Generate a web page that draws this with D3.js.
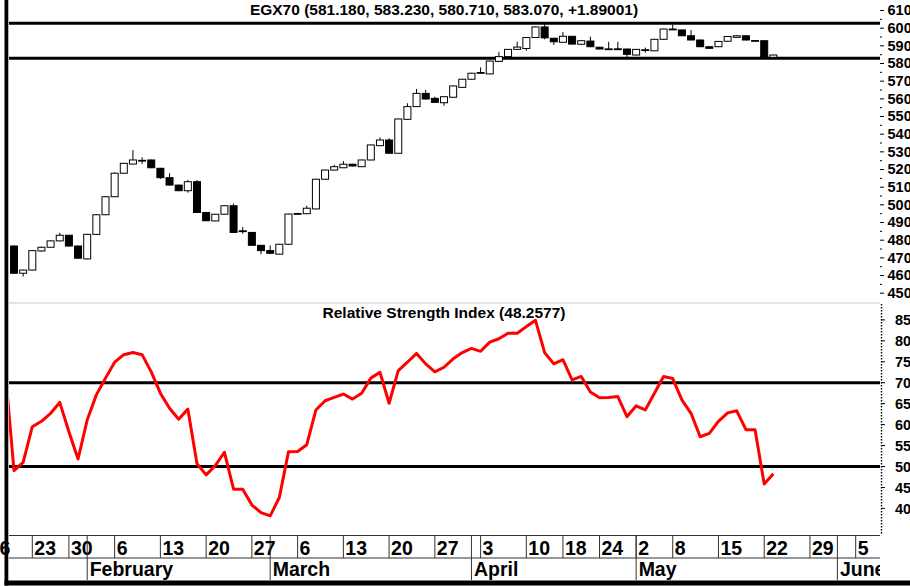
<!DOCTYPE html>
<html>
<head>
<meta charset="utf-8">
<script src="https://cdn.jsdelivr.net/npm/d3@7"></script>
<style>
  html, body { margin: 0; padding: 0; background: #fff; }
  svg { display: block; }
  text { font-family: "Liberation Sans", Arial, sans-serif; font-weight: bold; fill: #000; }
</style>
</head>
<body>
<svg width="910" height="586"></svg>
<script>
var svg = d3.select('svg')

// daily bars, first one is Jan 18 (hidden behind the left edge)
var firstIdx = -1
var opens = [470.0, 476.7, 461.3, 463.1, 473.9, 476.0, 479.6, 482.8, 476.7, 469.4, 483.3, 494.4, 504.6, 517.9, 523.1, 525.0, 525.4, 520.7, 515.4, 511.2, 508.0, 513.1, 495.7, 490.9, 494.7, 499.5, 485.3, 484.4, 477.1, 474.1, 472.1, 477.7, 494.8, 495.0, 497.7, 514.5, 519.7, 521.0, 523.0, 521.6, 525.4, 533.5, 536.7, 529.2, 548.4, 555.6, 563.1, 560.3, 557.8, 560.9, 566.5, 571.1, 574.7, 574.1, 581.2, 583.9, 588.0, 588.5, 594.7, 600.7, 594.3, 592.0, 595.4, 590.9, 592.7, 589.2, 588.2, 588.3, 588.2, 584.8, 587.6, 587.2, 593.7, 599.4, 599.0, 595.7, 593.3, 589.5, 589.5, 592.6, 594.8, 595.7, 592.9, 592.9, 583.5]
var highs = [477.5, 477.0, 463.3, 474.4, 476.3, 479.9, 484.2, 483.0, 477.0, 483.6, 494.7, 504.9, 518.4, 523.8, 531.0, 526.9, 525.6, 520.9, 517.9, 511.4, 514.1, 514.1, 495.9, 494.9, 499.7, 500.7, 487.5, 484.6, 477.3, 477.0, 477.9, 495.0, 495.5, 499.5, 514.7, 519.9, 522.6, 524.8, 523.2, 525.6, 534.1, 538.2, 537.7, 548.8, 557.5, 565.6, 565.0, 561.2, 561.4, 567.5, 571.3, 574.7, 577.8, 581.6, 586.6, 588.2, 592.3, 594.9, 600.9, 602.4, 594.5, 597.8, 595.6, 593.1, 595.2, 589.4, 592.3, 592.3, 588.4, 588.2, 589.0, 593.9, 599.7, 602.1, 599.2, 599.0, 593.5, 589.7, 592.7, 595.5, 596.0, 595.9, 593.3, 593.1, 585.0]
var lows = [469.5, 461.0, 459.4, 462.9, 473.6, 475.8, 479.4, 476.4, 469.5, 469.2, 483.1, 494.2, 504.4, 517.7, 522.9, 523.1, 520.8, 514.6, 511.0, 507.8, 506.9, 495.5, 490.8, 490.7, 494.5, 484.2, 483.7, 476.9, 472.1, 472.1, 471.9, 477.5, 494.5, 494.8, 497.5, 514.3, 519.5, 520.8, 521.8, 521.4, 525.2, 533.3, 529.0, 529.0, 548.2, 555.4, 559.7, 557.8, 556.1, 560.7, 566.3, 570.9, 574.5, 573.9, 581.0, 583.7, 587.8, 587.2, 594.5, 593.7, 590.5, 591.8, 590.8, 590.7, 589.3, 588.0, 588.0, 588.0, 583.1, 584.6, 586.1, 587.0, 593.5, 599.2, 595.5, 593.1, 589.3, 588.4, 589.3, 592.4, 594.6, 593.1, 592.6, 583.5, 583.3]
var closes = [477.0, 461.3, 463.1, 474.1, 476.0, 479.6, 482.8, 476.7, 469.8, 483.3, 494.4, 504.6, 517.9, 523.5, 525.4, 525.2, 521.0, 515.4, 511.2, 508.0, 513.1, 495.7, 491.0, 494.7, 499.5, 484.4, 485.1, 477.1, 474.1, 472.6, 477.7, 494.8, 495.1, 498.1, 514.5, 519.7, 521.6, 523.0, 522.0, 525.4, 533.9, 536.7, 529.2, 548.6, 555.6, 563.1, 559.9, 558.0, 561.2, 567.3, 571.1, 574.5, 574.9, 581.4, 583.9, 588.0, 589.3, 594.7, 600.7, 594.5, 592.3, 595.4, 591.0, 592.9, 589.5, 588.2, 588.3, 588.2, 585.2, 588.0, 587.8, 593.7, 599.5, 599.5, 595.7, 593.3, 589.5, 588.6, 592.5, 595.3, 595.7, 593.3, 593.0, 583.7, 584.8]
var rsi = [74.0, 49.0, 51.0, 59.5, 60.8, 62.7, 65.3, 58.3, 51.8, 61.1, 67.1, 71.1, 74.9, 76.7, 77.2, 76.7, 72.6, 67.5, 63.9, 61.3, 63.7, 50.7, 48.0, 50.2, 53.4, 44.6, 44.6, 40.8, 39.0, 38.2, 42.6, 53.5, 53.6, 55.2, 63.5, 65.7, 66.5, 67.3, 66.1, 67.5, 71.1, 72.5, 65.1, 72.9, 74.9, 77.0, 74.5, 72.6, 73.7, 75.7, 77.2, 78.2, 77.5, 79.7, 80.5, 81.8, 81.8, 83.4, 84.9, 77.2, 74.5, 75.5, 70.7, 71.5, 67.8, 66.4, 66.5, 66.7, 61.9, 64.5, 63.5, 67.5, 71.5, 71.0, 65.9, 62.7, 57.1, 57.9, 60.8, 62.8, 63.3, 58.8, 58.8, 45.8, 48.26]

var priceTicks = [450, 460, 470, 480, 490, 500, 510, 520, 530, 540, 550, 560, 570, 580, 590, 600, 610]
var priceLevels = [602.8, 583.0]
var rsiTicks = [40, 45, 50, 55, 60, 65, 70, 75, 80, 85]
var rsiLevels = [70, 50]

// week labels (first trading day) and how many trading days each week has
var weekLabels = ['16', '23', '30', '6', '13', '20', '27', '6', '13', '20', '27', '3', '10', '18', '24', '2', '8', '15', '22', '29', '5']
var weekLengths = [5, 4, 5, 5, 5, 5, 5, 5, 5, 5, 5, 5, 4, 4, 4, 4, 5, 5, 5, 5, 5]
var weekFirst = -3
var monthLabels = ['February', 'March', 'April', 'May', 'June']
var monthStarts = [8, 28, 50, 68, 90]

var titleText = 'EGX70 (581.180, 583.230, 580.710, 583.070, +1.89001)'
var rsiTitle = 'Relative Strength Index (48.2577)'

var plotL = 9, plotR = 880
var x = d3.scaleLinear().domain([0, 92]).range([14, 855.7])
var yP = d3.scaleLinear().domain([450, 610]).range([293.2, 10.5])
var yR = d3.scaleLinear().domain([40, 85]).range([508.4, 319.9])

var bars = opens.map((o, k) => ({
  i: k + firstIdx, o: o, h: highs[k], l: lows[k], c: closes[k], r: rsi[k]
}))

var defs = svg.append('defs')
defs.append('clipPath').attr('id', 'clip-price')
  .append('rect').attr('x', plotL).attr('y', 0).attr('width', plotR - plotL).attr('height', 302)
defs.append('clipPath').attr('id', 'clip-rsi')
  .append('rect').attr('x', plotL).attr('y', 304).attr('width', plotR - plotL).attr('height', 231)
defs.append('clipPath').attr('id', 'clip-axis')
  .append('rect').attr('x', 0).attr('y', 530).attr('width', plotR).attr('height', 56)

// ---- price panel
var pricePanel = svg.append('g').attr('clip-path', 'url(#clip-price)')

pricePanel.selectAll('.level')
  .data(priceLevels)
  .enter().append('line')
  .attr('x1', plotL).attr('x2', plotR)
  .attr('y1', d => yP(d)).attr('y2', d => yP(d))
  .attr('stroke', '#000').attr('stroke-width', 3)

var candle = pricePanel.selectAll('.candle')
  .data(bars)
  .enter().append('g')

candle.append('line')
  .attr('x1', d => x(d.i)).attr('x2', d => x(d.i))
  .attr('y1', d => yP(d.h)).attr('y2', d => yP(d.l))
  .attr('stroke', '#000').attr('stroke-width', 1)

candle.append('rect')
  .attr('x', d => x(d.i) - 3.5)
  .attr('width', 7)
  .attr('y', d => yP(Math.max(d.o, d.c)))
  .attr('height', d => Math.max(0.8, Math.abs(yP(d.o) - yP(d.c))))
  .attr('fill', d => d.c >= d.o ? '#fff' : '#000')
  .attr('stroke', '#000').attr('stroke-width', 1)

svg.append('text')
  .attr('x', 444).attr('y', 14.5)
  .attr('text-anchor', 'middle')
  .style('font-size', '15.5px')
  .text(titleText)

// price axis on the right
var pAxis = svg.append('g')
pAxis.selectAll('.maj')
  .data(priceTicks)
  .enter().append('line')
  .attr('x1', 880).attr('x2', 884)
  .attr('y1', d => yP(d)).attr('y2', d => yP(d))
  .attr('stroke', '#000')
pAxis.selectAll('.min')
  .data(priceTicks.slice(0, -1))
  .enter().append('line')
  .attr('x1', 880).attr('x2', 882)
  .attr('y1', d => yP(d + 5)).attr('y2', d => yP(d + 5))
  .attr('stroke', '#000')
pAxis.selectAll('text')
  .data(priceTicks)
  .enter().append('text')
  .attr('x', 887.5).attr('y', d => yP(d) + 4.8)
  .style('font-size', '14.5px')
  .text(d => d)

// panel separator
svg.append('line')
  .attr('x1', plotL).attr('x2', plotR)
  .attr('y1', 303).attr('y2', 303)
  .attr('stroke', '#c8c8c8').attr('stroke-width', 1)

// ---- RSI panel
var rsiPanel = svg.append('g').attr('clip-path', 'url(#clip-rsi)')

rsiPanel.selectAll('.level')
  .data(rsiLevels)
  .enter().append('line')
  .attr('x1', plotL).attr('x2', plotR)
  .attr('y1', d => yR(d)).attr('y2', d => yR(d))
  .attr('stroke', '#000').attr('stroke-width', 3)

var rsiLine = d3.line()
  .x(d => x(d.i))
  .y(d => yR(d.r))

rsiPanel.append('path')
  .datum(bars)
  .attr('d', rsiLine)
  .attr('fill', 'none')
  .attr('stroke', '#ff0000')
  .attr('stroke-width', 3)
  .attr('stroke-linejoin', 'round')

svg.append('text')
  .attr('x', 444).attr('y', 318)
  .attr('text-anchor', 'middle')
  .style('font-size', '15.5px')
  .text(rsiTitle)

var rAxis = svg.append('g')
rAxis.append('line')
  .attr('x1', 881.5).attr('x2', 881.5)
  .attr('y1', 304).attr('y2', 535)
  .attr('stroke', '#000').attr('stroke-width', 1.4)
  .attr('stroke-dasharray', '1.5,1.5')
rAxis.selectAll('.tick')
  .data(rsiTicks)
  .enter().append('line')
  .attr('x1', 881).attr('x2', 885)
  .attr('y1', d => yR(d)).attr('y2', d => yR(d))
  .attr('stroke', '#000')
rAxis.selectAll('text')
  .data(rsiTicks)
  .enter().append('text')
  .attr('x', 895).attr('y', d => yR(d) + 5.5)
  .style('font-size', '14.5px')
  .text(d => d)

// ---- date axis
var weekStarts = []
var idx = weekFirst
weekLengths.forEach(n => {
  weekStarts.push(idx)
  idx += n
})

var xAxis = svg.append('g').attr('clip-path', 'url(#clip-axis)')
xAxis.selectAll('.row')
  .data([535.5, 558])
  .enter().append('line')
  .attr('x1', plotL).attr('x2', plotR)
  .attr('y1', d => d).attr('y2', d => d)
  .attr('stroke', '#333').attr('stroke-width', 1)

xAxis.selectAll('.wsep')
  .data(weekStarts)
  .enter().append('line')
  .attr('x1', d => x(d)).attr('x2', d => x(d))
  .attr('y1', 535.5).attr('y2', 558)
  .attr('stroke', '#333').attr('stroke-width', 1)

xAxis.selectAll('.wlab')
  .data(weekStarts)
  .enter().append('text')
  .attr('x', (d, k) => x(d) + 2)
  .attr('y', 554.5)
  .style('font-size', '19.5px')
  .text((d, k) => weekLabels[k])

xAxis.selectAll('.msep')
  .data(monthStarts)
  .enter().append('line')
  .attr('x1', d => x(d)).attr('x2', d => x(d))
  .attr('y1', 535.5).attr('y2', 580)
  .attr('stroke', '#333').attr('stroke-width', 1)

xAxis.selectAll('.mlab')
  .data(monthStarts)
  .enter().append('text')
  .attr('x', d => x(d) + 2.5)
  .attr('y', 575.5)
  .style('font-size', '19.5px')
  .text((d, k) => monthLabels[k])

// ---- frame
svg.append('rect')
  .attr('x', 4.5).attr('y', 0).attr('width', 3.8).attr('height', 585.5)
  .attr('fill', '#000')
svg.append('rect')
  .attr('x', 4.5).attr('y', 580.5).attr('width', 905.5).attr('height', 5)
  .attr('fill', '#000')
</script>
</body>
</html>
